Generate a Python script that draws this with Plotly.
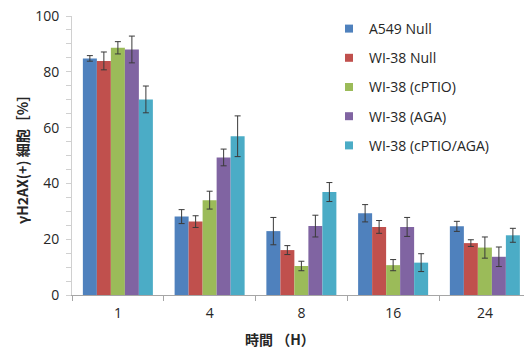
import plotly.graph_objects as go

categories = ["1", "4", "8", "16", "24"]
series_names = ["A549 Null", "WI-38 Null", "WI-38 (cPTIO)", "WI-38 (AGA)", "WI-38 (cPTIO/AGA)"]
a549_null = [84.8, 28.1, 22.9, 29.3, 24.6]
wi38_null = [83.9, 26.3, 16.1, 24.4, 18.6]
wi38_cptio = [88.6, 34.0, 10.4, 10.7, 17.0]
wi38_aga = [88.0, 49.3, 24.7, 24.4, 13.7]
wi38_cptio_aga = [70.1, 56.9, 36.9, 11.6, 21.4]
a549_null_err = [1.0, 2.5, 4.9, 3.1, 1.8]
wi38_null_err = [3.2, 2.1, 1.6, 2.3, 1.2]
wi38_cptio_err = [2.2, 3.2, 1.7, 2.0, 3.8]
wi38_aga_err = [4.8, 3.0, 3.9, 3.4, 3.5]
wi38_cptio_aga_err = [4.8, 7.3, 3.4, 3.2, 2.5]
y_ticks = [0, 20, 40, 60, 80, 100]

values = [a549_null, wi38_null, wi38_cptio, wi38_aga, wi38_cptio_aga]
errors = [a549_null_err, wi38_null_err, wi38_cptio_err, wi38_aga_err, wi38_cptio_aga_err]
colors = ["#4F81BD", "#C0504D", "#9BBB59", "#8064A2", "#4BACC6"]

W, H = 524, 352
L, R, T, B = 72, 0, 16, 57
PW, PH = W - L - R, H - T - B

fig = go.Figure()
for name, v, e, c in zip(series_names, values, errors, colors):
    fig.add_trace(go.Bar(
        x=categories, y=v, name=name, showlegend=False,
        marker=dict(color=c, line=dict(width=0)),
        error_y=dict(type="data", array=e, visible=True, color="#3a3a3a",
                     thickness=1, width=3),
    ))
for i, (name, c) in enumerate(zip(series_names, colors)):
    fig.add_trace(go.Scatter(
        x=[None], y=[None], mode="markers", name=name, legendgroup=f"g{i}",
        marker=dict(symbol="square", size=8, color=c),
    ))

font_main = "Open Sans, Liberation Sans, sans-serif"
cjk = "Noto Sans CJK JP, Noto Sans, sans-serif"

fig.update_layout(
    width=W, height=H,
    margin=dict(l=L, r=R, t=T, b=B, pad=0, autoexpand=False),
    paper_bgcolor="white", plot_bgcolor="white",
    barmode="group", bargap=0.237, bargroupgap=0,
    font=dict(family=font_main, size=14, color="#262626"),
    showlegend=True,
    legend=dict(
        xref="paper", yref="paper",
        x=(329 - L) / PW, y=1 - (13 - T) / PH, xanchor="left", yanchor="top",
        font=dict(size=14, family=font_main, color="#262626"),
        tracegroupgap=8, itemwidth=30, bgcolor="rgba(0,0,0,0)",
    ),
    xaxis=dict(
        type="category",
        range=[-0.5, 4.5 - 6.75 / 91.75],
        showline=True, linecolor="#A6A6A6", linewidth=1,
        ticks="outside", tickson="boundaries", ticklen=5, tickcolor="#A6A6A6",
        showgrid=False, zeroline=False,
        tickfont=dict(size=14, color="#262626"),
        ticklabelstandoff=5,
    ),
    yaxis=dict(
        range=[0, 100], tickvals=y_ticks,
        showline=True, linecolor="#D0D0D0", linewidth=1,
        ticks="outside", ticklen=5, tickcolor="#D0D0D0",
        minor=dict(dtick=5, ticks="outside", ticklen=5, tickcolor="#D0D0D0", showgrid=False),
        showgrid=False, zeroline=False,
        tickfont=dict(size=14, color="#262626"),
        ticklabelstandoff=4,
    ),
    annotations=[
        dict(text="<b>時間 （H）</b>", xref="paper", yref="paper",
             x=(280 - L) / PW, y=-(339 - (H - B)) / PH,
             xanchor="center", yanchor="middle", showarrow=False,
             font=dict(family=cjk, size=14, color="#262626")),
        dict(text="<b>γH2AX(+) 細胞［%］</b>", xref="paper", yref="paper",
             x=-(L - 22) / PW, y=(H - B - 156) / PH,
             xanchor="center", yanchor="middle", showarrow=False, textangle=-90,
             font=dict(family=cjk, size=14, color="#262626")),
    ],
)

fig.write_html("out.html")
